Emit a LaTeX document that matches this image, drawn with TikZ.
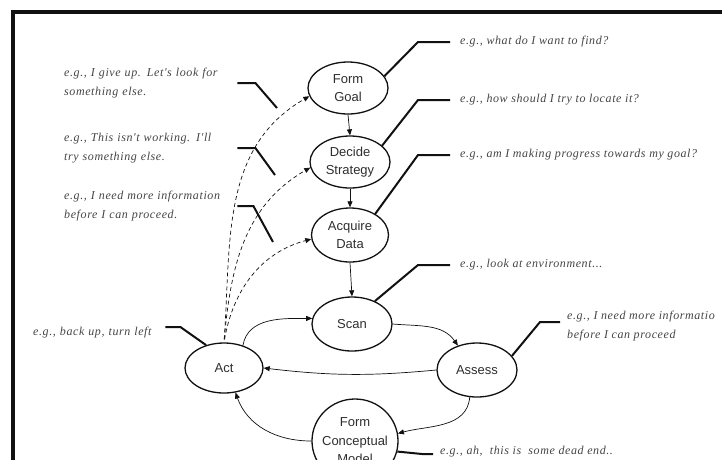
\documentclass[tikz,border=0pt]{standalone}
\usepackage{fontspec}
\setmainfont{Liberation Serif}
\setsansfont{Liberation Sans}
\newfontfamily\notefont[LetterSpace=5]{Liberation Serif}
\usepackage{xcolor}
\usetikzlibrary{arrows.meta,positioning,shapes.geometric}
\definecolor{flowInk}{HTML}{111111}
\definecolor{flowText}{HTML}{2E2E2E}
\definecolor{flowNote}{HTML}{444444}
\begin{document}
\begin{tikzpicture}[
    x=1pt,y=-1pt,
    stage/.style={ellipse,draw=flowInk,line width=1.3pt,inner sep=0pt,
                  minimum width=80pt,minimum height=52pt,align=center,
                  text=flowText,font=\sffamily\fontsize{13}{17.5}\selectfont},
    note/.style={align=left,inner sep=2pt,text=flowNote,
                 font=\notefont\itshape\fontsize{12}{19.5}\selectfont},
    lnote/.style={note,anchor=west,text width=170pt},
    rnote/.style={note,anchor=west},
    leader/.style={draw=flowInk,line width=2pt},
    ar/.style={-{Triangle[length=6pt,width=5pt]},draw=flowInk,line width=0.7pt},
    back/.style={ar,dash pattern=on 4pt off 3pt,shorten <=3pt},
    frame/.style={draw=flowInk,line width=3.5pt}
  ]
    \useasboundingbox (0,0) rectangle (722,459);
    \draw[frame] (13,470) -- (13,12) -- (730,12);

    \node[stage] (goal)  at (348,88)  {Form\\Goal};
    \node[stage] (strat) at (350,162) {Decide\\Strategy};
    \node[stage,minimum width=77pt,minimum height=54pt] (acq) at (350,235) {Acquire\\Data};
    \node[stage,minimum height=54pt] (scan) at (352,324) {Scan};
    \node[stage,minimum width=78pt,minimum height=50pt] (act) at (224,368) {Act};
    \node[stage,minimum height=54pt] (assess) at (477,370) {Assess};
    \node[stage,inner xsep=-6pt,minimum width=86pt,minimum height=84pt,
          font=\sffamily\fontsize{13}{18.5}\selectfont] (model) at (355,441) {Form\\Conceptual\\Model};

    \node[lnote] (nQuit)  at (62,83)  {e.g., I give up. Let's look for\\something else.};
    \node[lnote] (nRetry) at (62,148) {e.g., This isn't working. I'll\\try something else.};
    \node[lnote] (nMore)  at (62,206) {e.g., I need more information\\before I can proceed.};
    \node[note,anchor=west,text width=128pt] (nBack) at (31,333) {e.g., back up, turn left};

    \node[rnote] (nFind)     at (458,42)  {e.g., what do I want to find?};
    \node[rnote] (nLocate)   at (458,100) {e.g., how should I try to locate it?};
    \node[rnote] (nProgress) at (458,155) {e.g., am I making progress towards my goal?};
    \node[rnote] (nLook)     at (458,265) {e.g., look at environment...};
    \node[rnote] (nAssess)   at (565,326) {e.g., I need more informatio\\before I can proceed};
    \node[rnote] (nDead)     at (438,452) {e.g., ah,\ \ this is\ \ some dead end..};

    \coordinate (kQuit)  at (277,108);
    \coordinate (kRetry) at (275,175);
    \coordinate (kMore)  at (273,242);

    \draw[ar] (goal.south)  -- (strat.north);
    \draw[ar] (strat.south) -- (acq.north);
    \draw[ar] (acq.south)   -- (scan.north);
    \draw[ar] (act.50) to[out=80,in=180] (scan.172);
    \draw[ar] (scan.east) to[out=-5,in=125] (assess.128);
    \draw[ar] (assess.west) to[bend left=6] (act.east);
    \draw[ar] (assess.-105) to[out=-95,in=15] (model.10);
    \draw[ar] (model.west) to[out=180,in=-70] (act.-65);

    \draw[back] (act.north) to[out=86,in=210] (goal.192);
    \draw[back] (act.north) to[out=85,in=210] (strat.188);
    \draw[back] (act.north) to[out=80,in=195] (acq.186);

    \draw[leader] ([xshift=1pt]nQuit.east)  -- ++(18,0) -- (kQuit);
    \draw[leader] ([xshift=1pt]nRetry.east) -- ++(18,0) -- (kRetry);
    \draw[leader] ([xshift=1pt]nMore.east)  -- ++(16,0) -- (kMore);
    \draw[leader] ([shift={(2,-6)}]nBack.east) -- ++(15,0) -- (act.128);

    \draw[leader] ([xshift=-8pt]nFind.west)     -- ++(-32,0) -- (goal.18);
    \draw[leader] ([xshift=-8pt]nLocate.west)   -- ++(-32,0) -- (strat.27);
    \draw[leader] ([xshift=-8pt]nProgress.west) -- ++(-32,0) -- (acq.40);
    \draw[leader] ([xshift=-8pt]nLook.west)     -- ++(-32,0) -- (scan.45);
    \draw[leader] ([shift={(-5,-4)}]nAssess.west) -- ++(-20,0) -- (assess.22);
    \draw[leader] ([shift={(-5,2)}]nDead.west)  -- ++(-11,0) -- (model.-14);
  \end{tikzpicture}
\end{document}
